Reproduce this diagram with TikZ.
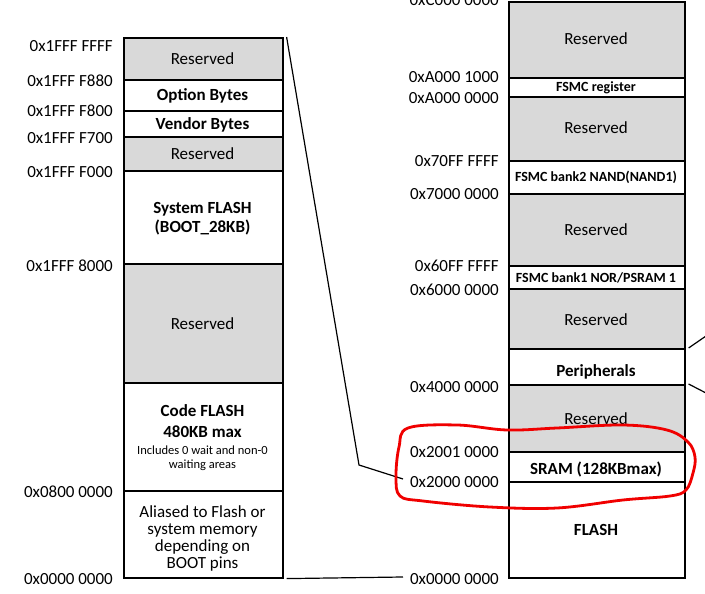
\documentclass[tikz,border=0pt]{standalone}
\usepackage{fontspec}
\setmainfont{Carlito}
\definecolor{resgray}{HTML}{D9D9D9}
\definecolor{penred}{HTML}{F00000}
\begin{document}
\begin{tikzpicture}[x=1pt,y=-1pt,
  box/.style={draw=black, line width=1.6pt, inner sep=0pt, anchor=north west},
  lbox/.style={box, minimum width=159pt},
  rbox/.style={box, minimum width=176pt},
  res/.style={fill=resgray},
  txt/.style={anchor=base, inner sep=0pt, font=\fontsize{17}{20}\selectfont},
  btxt/.style={txt, font=\fontsize{17}{20}\selectfont\bfseries},
  stxt/.style={txt, font=\fontsize{14}{16}\selectfont\bfseries},
  ttxt/.style={txt, font=\fontsize{12.5}{15}\selectfont},
  addrl/.style={anchor=base east, inner sep=0pt, font=\fontsize{17}{20}\selectfont},
  conn/.style={draw=black, line width=1.2pt}
]
\useasboundingbox (0,0) rectangle (705,594);
\clip (0,0) rectangle (705,594);

% ---------- left column ----------
\node[lbox,res,minimum height=42pt]  (L1) at (123,37)  {};
\node[lbox,minimum height=31pt]      (L2) at (123,79)  {};
\node[lbox,minimum height=26pt]      (L3) at (123,110) {};
\node[lbox,res,minimum height=34pt]  (L4) at (123,136) {};
\node[lbox,minimum height=93pt]      (L5) at (123,170) {};
\node[lbox,res,minimum height=119pt] (L6) at (123,263) {};
\node[lbox,minimum height=108pt]     (L7) at (123,382) {};
\node[lbox,minimum height=87pt]      (L8) at (123,490) {};

\node[txt]  (t1)  at (202.5,65)  {Reserved};
\node[btxt] (t2)  at (202.5,101) {Option Bytes};
\node[btxt] (t3)  at (202.5,129) {Vendor Bytes};
\node[txt]  (t4)  at (202.5,159) {Reserved};
\node[btxt] (t5a) at (202.5,213) {System FLASH};
\node[btxt] (t5b) at (202.5,232) {(BOOT\_28KB)};
\node[txt]  (t6)  at (202.5,329) {Reserved};
\node[btxt] (t7a) at (202.5,416) {Code FLASH};
\node[btxt] (t7b) at (202.5,437) {480KB max};
\node[ttxt] (t7c) at (202.5,454) {Includes 0 wait and non-0};
\node[ttxt] (t7d) at (202.5,468) {waiting areas};
\node[txt]  (t8a) at (202.5,517) {Aliased to Flash or};
\node[txt]  (t8b) at (202.5,534) {system memory};
\node[txt]  (t8c) at (202.5,551) {depending on};
\node[txt]  (t8d) at (202.5,568) {BOOT pins};

\node[addrl] (a1) at (113,52)  {0x1FFF FFFF};
\node[addrl] (a2) at (113,87)  {0x1FFF F880};
\node[addrl] (a3) at (113,117) {0x1FFF F800};
\node[addrl] (a4) at (113,143) {0x1FFF F700};
\node[addrl] (a5) at (113,177) {0x1FFF F000};
\node[addrl] (a6) at (113,271) {0x1FFF 8000};
\node[addrl] (a7) at (113,497) {0x0800 0000};
\node[addrl] (a8) at (113,584) {0x0000 0000};

% ---------- right column ----------
\node[rbox,res,minimum height=76pt] (R1)  at (508,1)   {};
\node[rbox,minimum height=19pt]     (R2)  at (508,77)  {};
\node[rbox,res,minimum height=64pt] (R3)  at (508,96)  {};
\node[rbox,minimum height=33pt]     (R4)  at (508,160) {};
\node[rbox,res,minimum height=72pt] (R5)  at (508,193) {};
\node[rbox,minimum height=23pt]     (R6)  at (508,265) {};
\node[rbox,res,minimum height=60pt] (R7)  at (508,288) {};
\node[rbox,minimum height=36pt]     (R8)  at (508,348) {};
\node[rbox,res,minimum height=67pt] (R9)  at (508,384) {};
\node[rbox,minimum height=30pt]     (R10) at (508,451) {};
\node[rbox,minimum height=96pt]     (R11) at (508,481) {};

\node[txt]  (u1)  at (596,45)  {Reserved};
\node[stxt] (u2)  at (596,92)  {FSMC register};
\node[txt]  (u3)  at (596,134) {Reserved};
\node[stxt] (u4)  at (596,181) {FSMC bank2 NAND(NAND1)};
\node[txt]  (u5)  at (596,235) {Reserved};
\node[stxt] (u6)  at (596,282) {FSMC bank1 NOR/PSRAM 1};
\node[txt]  (u7)  at (596,325) {Reserved};
\node[btxt] (u8)  at (596,376) {Peripherals};
\node[txt]  (u9)  at (596,424) {Reserved};
\node[btxt] (u10) at (596,474) {SRAM (128KBmax)};
\node[btxt] (u11) at (596,535) {FLASH};

\node[addrl] (b1)  at (499,6)   {0xC000 0000};
\node[addrl] (b2)  at (499,83)  {0xA000 1000};
\node[addrl] (b3)  at (499,103) {0xA000 0000};
\node[addrl] (b4)  at (499,167) {0x70FF FFFF};
\node[addrl] (b5)  at (499,199) {0x7000 0000};
\node[addrl] (b6)  at (499,271) {0x60FF FFFF};
\node[addrl] (b7)  at (499,295) {0x6000 0000};
\node[addrl] (b8)  at (499,392) {0x4000 0000};
\node[addrl] (b9)  at (499,457) {0x2001 0000};
\node[addrl] (b10) at (499,487) {0x2000 0000};
\node[addrl] (b11) at (499,584) {0x0000 0000};

% ---------- connectors ----------
\coordinate (k1) at (359,465);
\coordinate (k2) at (403,479);
\coordinate (k3) at (403,577);
\coordinate (e1) at (706,336);
\coordinate (e2) at (706,393);
\draw[conn] ([xshift=3pt]L1.north east) -- (k1) -- (k2);
\draw[conn] ([xshift=3pt]L8.south east) -- (k3);
\draw[conn] ([xshift=3pt]R8.north east) -- (e1);
\draw[conn] ([xshift=3pt]R9.north east) -- (e2);

% ---------- red freehand mark ----------
\draw[penred, line width=2.8pt, line join=round]
  plot[smooth cycle, tension=0.6] coordinates {
   (408,428) (457,425) (507,430) (557,428) (623,425) (667,430) (688,442)
   (695,457) (693,473) (686,490) (670,496) (623,500) (557,508) (490,507)
   (423,501) (400,496) (396,477) (399,447)};
\end{tikzpicture}
\end{document}
